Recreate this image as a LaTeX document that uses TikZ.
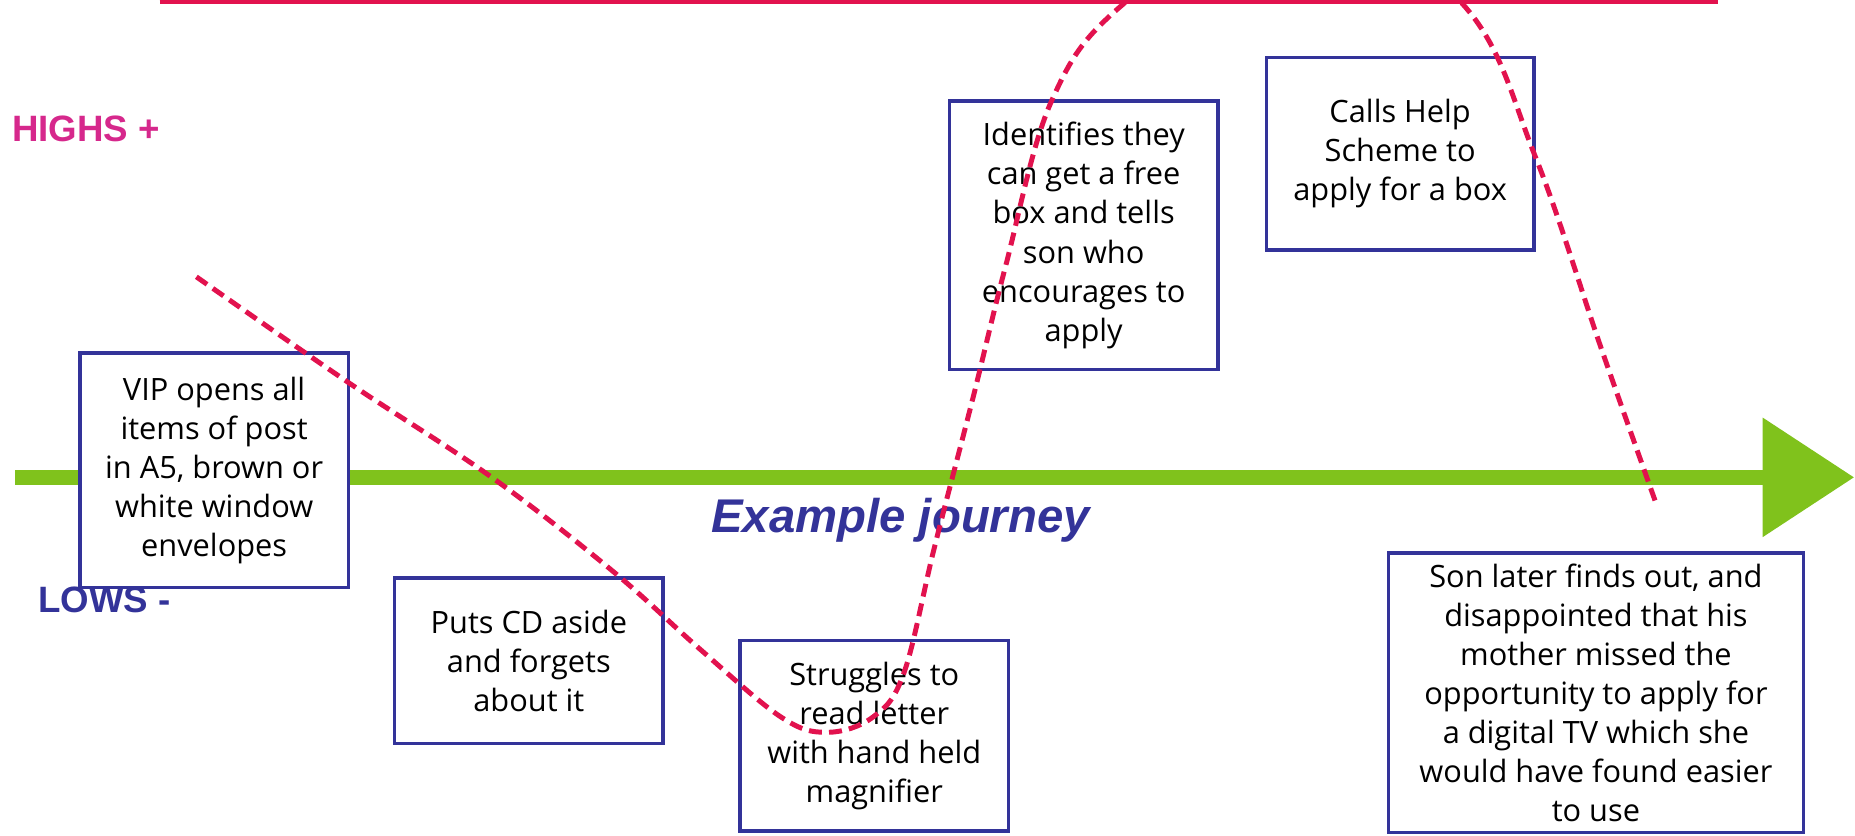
\documentclass[tikz,border=0pt]{standalone}
\usepackage{fontspec}
\setmainfont{Open Sans}
\newfontfamily\labelfont{Liberation Sans}
\definecolor{navy}{RGB}{51,51,153}
\definecolor{hotpink}{RGB}{214,40,140}
\definecolor{crimson}{RGB}{226,18,78}
\definecolor{leaf}{RGB}{128,194,28}

\begin{document}
\begin{tikzpicture}[x=1pt,y=-1pt,
  jbox/.style={draw=navy, line width=3pt, fill=white, align=center,
    inner sep=0pt, font=\fontsize{26}{33}\selectfont},
  levellabel/.style={anchor=base west, inner sep=0pt,
    font=\labelfont\fontsize{31}{31}\bfseries\selectfont},
  mood/.style={crimson, line width=4.2pt, dash pattern=on 11pt off 6pt}
]
\useasboundingbox (0,0) rectangle (1568,706);
\clip (0,0) rectangle (1568,706);

% ceiling line
\coordinate (topL) at (135,1.5);
\coordinate (topR) at (1452,1.5);
\draw[crimson, line width=3.5pt] (topL) -- (topR);

% time axis
\coordinate (axStart) at (13,403.5);
\coordinate (axBase) at (1490,403.5);
\coordinate (axTip) at (1567,403.5);
\draw[leaf, line width=13pt] (axStart) -- (axBase);
\fill[leaf] ([yshift=-50.5pt]axBase) -- (axTip) -- ([yshift=50.5pt]axBase) -- cycle;

% level labels
\node[levellabel, text=hotpink] (highs) at (10,120) {HIGHS +};
\node[levellabel, text=navy] (lows) at (32,518) {LOWS -};
\node[anchor=base west, inner sep=0pt, text=navy,
  font=\labelfont\fontsize{40}{40}\bfseries\itshape\selectfont] (journey) at (601,450) {Example journey};

% journey steps
\node[jbox, minimum width=227pt, minimum height=198pt] (vip) at (181,397.5)
  {VIP opens all\\items of post\\in A5, brown or\\white window\\envelopes};
\node[jbox, minimum width=227pt, minimum height=140pt] (aside) at (447,558.5)
  {Puts CD aside\\and forgets\\about it};
\node[jbox, minimum width=227pt, minimum height=161pt] (struggle) at (739,622)
  {Struggles to\\read letter\\with hand held\\magnifier};
\node[jbox, minimum width=227pt, minimum height=227pt] (identify) at (916,199)
  {Identifies they\\can get a free\\box and tells\\son who\\encourages to\\apply};
\node[jbox, minimum width=226pt, minimum height=163pt] (calls) at (1183.5,130)
  {Calls Help\\Scheme to\\apply for a box};
\node[jbox, minimum width=351pt, minimum height=236pt] (son) at (1349,585.5)
  {Son later finds out, and\\disappointed that his\\mother missed the\\opportunity to apply for\\a digital TV which she\\would have found easier\\to use};

% emotional curve
\draw[mood] plot[smooth, tension=0.6] coordinates {
  (166,234) (294,323) (415,403) (517,482) (592,549) (660,606) (699,619)
  (738,606) (764,569) (790,462) (822,338) (850,225) (889,85) (950,3)
  (1095,-90) (1236,3) (1298,133) (1354,296) (1400,426)};
\end{tikzpicture}
\end{document}
